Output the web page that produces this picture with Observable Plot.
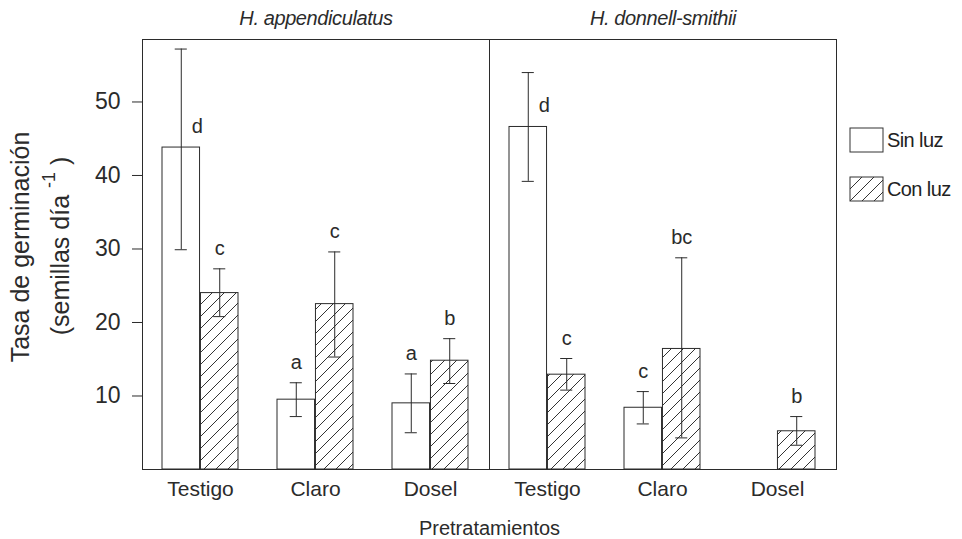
<!DOCTYPE html>
<html>
<head>
<meta charset="utf-8">
<script src="https://cdn.jsdelivr.net/npm/d3@7"></script>
<script src="https://cdn.jsdelivr.net/npm/@observablehq/plot@0.6"></script>
<style>
html, body { margin: 0; padding: 0; background: #fff; }
#wrap { position: relative; width: 962px; height: 539px; font-family: "Liberation Sans", Arial, sans-serif; color: #222; }
#wrap g[aria-label="y-axis tick label"] { font-size: 23px; }
#wrap g[aria-label="x-axis tick label"] { font-size: 21px; }
#wrap g[aria-label="fx-axis tick label"] { font-size: 20px; font-style: italic; letter-spacing: -0.4px; }
#wrap g[aria-label="x-axis label"] { font-size: 20px; }
#legend { position: absolute; left: 850px; top: 128px; }
#legend > div { font-size: 20px; font-family: "Liberation Sans", Arial, sans-serif; letter-spacing: -0.6px; color: #222; margin: 0; columns: auto; }
#legend [class$="-swatch"] { padding-bottom: 0; margin-bottom: 25px; }
#legend svg { margin-right: 4px !important; }
#legend svg rect { stroke: #333; stroke-width: 1; }
</style>
</head>
<body>
<svg width="0" height="0" style="position:absolute">
  <defs>
    <pattern id="hatch" patternUnits="userSpaceOnUse" width="12" height="12">
      <rect width="12" height="12" fill="#fff"></rect>
      <path d="M-1,13 L13,-1 M-1,1 L1,-1 M11,13 L13,11" stroke="#333" stroke-width="1" fill="none"></path>
    </pattern>
  </defs>
</svg>
<div id="wrap"><div id="legend"></div></div>
<script>
// ---- data ----
const species = ["H. appendiculatus", "H. donnell-smithii"];
const pretratamientos = ["Testigo", "Claro", "Dosel"];
const luz = ["Sin luz", "Con luz"];

// H. appendiculatus
const appSinMedia = [43.8, 9.5, 9.0];
const appSinInf   = [29.9, 7.2, 5.0];
const appSinSup   = [57.2, 11.8, 13.0];
const appSinLetra = ["d", "a", "a"];
const appConMedia = [24.0, 22.5, 14.8];
const appConInf   = [20.8, 15.3, 11.7];
const appConSup   = [27.3, 29.6, 17.8];
const appConLetra = ["c", "c", "b"];

// H. donnell-smithii
const donSinMedia = [46.6, 8.4, null];
const donSinInf   = [39.2, 6.2, null];
const donSinSup   = [54.0, 10.6, null];
const donSinLetra = ["d", "c", ""];
const donConMedia = [12.9, 16.4, 5.2];
const donConInf   = [10.8, 4.3, 3.3];
const donConSup   = [15.1, 28.8, 7.2];
const donConLetra = ["c", "bc", "b"];

const series = [
  [species[0], luz[0], appSinMedia, appSinInf, appSinSup, appSinLetra],
  [species[0], luz[1], appConMedia, appConInf, appConSup, appConLetra],
  [species[1], luz[0], donSinMedia, donSinInf, donSinSup, donSinLetra],
  [species[1], luz[1], donConMedia, donConInf, donConSup, donConLetra]
];
const rows = [];
for (const [sp, l, m, lo, hi, let_] of series) {
  pretratamientos.forEach((t, i) => {
    if (m[i] == null) return;
    rows.push({species: sp, trat: t, luz: l, media: m[i], inf: lo[i], sup: hi[i], letra: let_[i]});
  });
}
const sin = rows.filter(d => d.luz === luz[0]);
const con = rows.filter(d => d.luz === luz[1]);

// ---- layout ----
const W = 962, H = 539, mL = 141, mR = 126, mT = 39, mB = 70;
const pIn = 0.336, pOut = 0.168;
const facetW = (W - mL - mR) / species.length;
const step = facetW / (pretratamientos.length - pIn + 2 * pOut);
const bw = step * (1 - pIn), half = bw / 2, q = bw / 4, cap = 6.5;
const ink = "#2b2b2b";

const chart = Plot.plot({
  width: W, height: H,
  marginLeft: mL, marginRight: mR, marginTop: mT, marginBottom: mB,
  style: {fontFamily: "Liberation Sans, Arial, sans-serif", fontSize: "20px", color: ink, background: "#fff"},
  fx: {domain: species, padding: 0, label: null, axis: "top", tickSize: 0, tickPadding: 15},
  x: {domain: pretratamientos, paddingInner: pIn, paddingOuter: pOut, label: "Pretratamientos", labelAnchor: "center", labelOffset: 65, tickSize: 0, tickPadding: 12},
  y: {domain: [0, 58.5], ticks: [10, 20, 30, 40, 50], tickSize: 10, tickPadding: 12, label: null},
  color: {domain: luz, range: ["#fff", "url(#hatch)"]},
  marks: [
    Plot.barY(sin, {fx: "species", x: "trat", y: "media", fill: "luz", stroke: ink, strokeWidth: 1, insetRight: half}),
    Plot.barY(con, {fx: "species", x: "trat", y: "media", fill: "luz", stroke: ink, strokeWidth: 1, insetLeft: half}),
    Plot.ruleX(sin, {fx: "species", x: "trat", y1: "inf", y2: "sup", dx: -q, stroke: ink}),
    Plot.ruleX(con, {fx: "species", x: "trat", y1: "inf", y2: "sup", dx: q, stroke: ink}),
    Plot.tickY(sin, {fx: "species", x: "trat", y: "sup", insetLeft: q - cap, insetRight: bw - q - cap, stroke: ink}),
    Plot.tickY(sin, {fx: "species", x: "trat", y: "inf", insetLeft: q - cap, insetRight: bw - q - cap, stroke: ink}),
    Plot.tickY(con, {fx: "species", x: "trat", y: "sup", insetLeft: 3 * q - cap, insetRight: q - cap, stroke: ink}),
    Plot.tickY(con, {fx: "species", x: "trat", y: "inf", insetLeft: 3 * q - cap, insetRight: q - cap, stroke: ink}),
    Plot.text(sin.filter(d => d.letra && d.letra !== "d"), {fx: "species", x: "trat", y: "sup", text: "letra", dx: -q, dy: -20, fontSize: 20, fill: ink}),
    Plot.text(sin.filter(d => d.letra === "d"), {fx: "species", x: "trat", y: "media", text: "letra", dx: -q + 16, dy: -21, fontSize: 20, fill: ink}),
    Plot.text(con.filter(d => d.letra), {fx: "species", x: "trat", y: "sup", text: "letra", dx: q, dy: -20, fontSize: 20, fill: ink}),
    Plot.frame({stroke: ink, strokeWidth: 1})
  ]
});

document.getElementById("wrap").prepend(chart);

// y-axis title with superscript
const svg = d3.select(chart);
const g = svg.append("g").attr("fill", ink).attr("font-size", 25).attr("font-family", "Liberation Sans, Arial, sans-serif");
g.append("text")
  .attr("transform", "translate(20,247) rotate(-90)")
  .attr("text-anchor", "middle").attr("dominant-baseline", "central")
  .text("Tasa de germinación");
const t2 = g.append("text")
  .attr("transform", "translate(60,246) rotate(-90)")
  .attr("text-anchor", "middle").attr("dominant-baseline", "central");
t2.append("tspan").text("(semillas día ");
t2.append("tspan").attr("dy", -11).attr("font-size", 18).text("-1");
t2.append("tspan").attr("dy", 11).text(" )");

// legend
const leg = chart.legend("color", {swatchWidth: 33, swatchHeight: 24, columns: 1});
document.getElementById("legend").append(leg);
</script>
</body>
</html>
